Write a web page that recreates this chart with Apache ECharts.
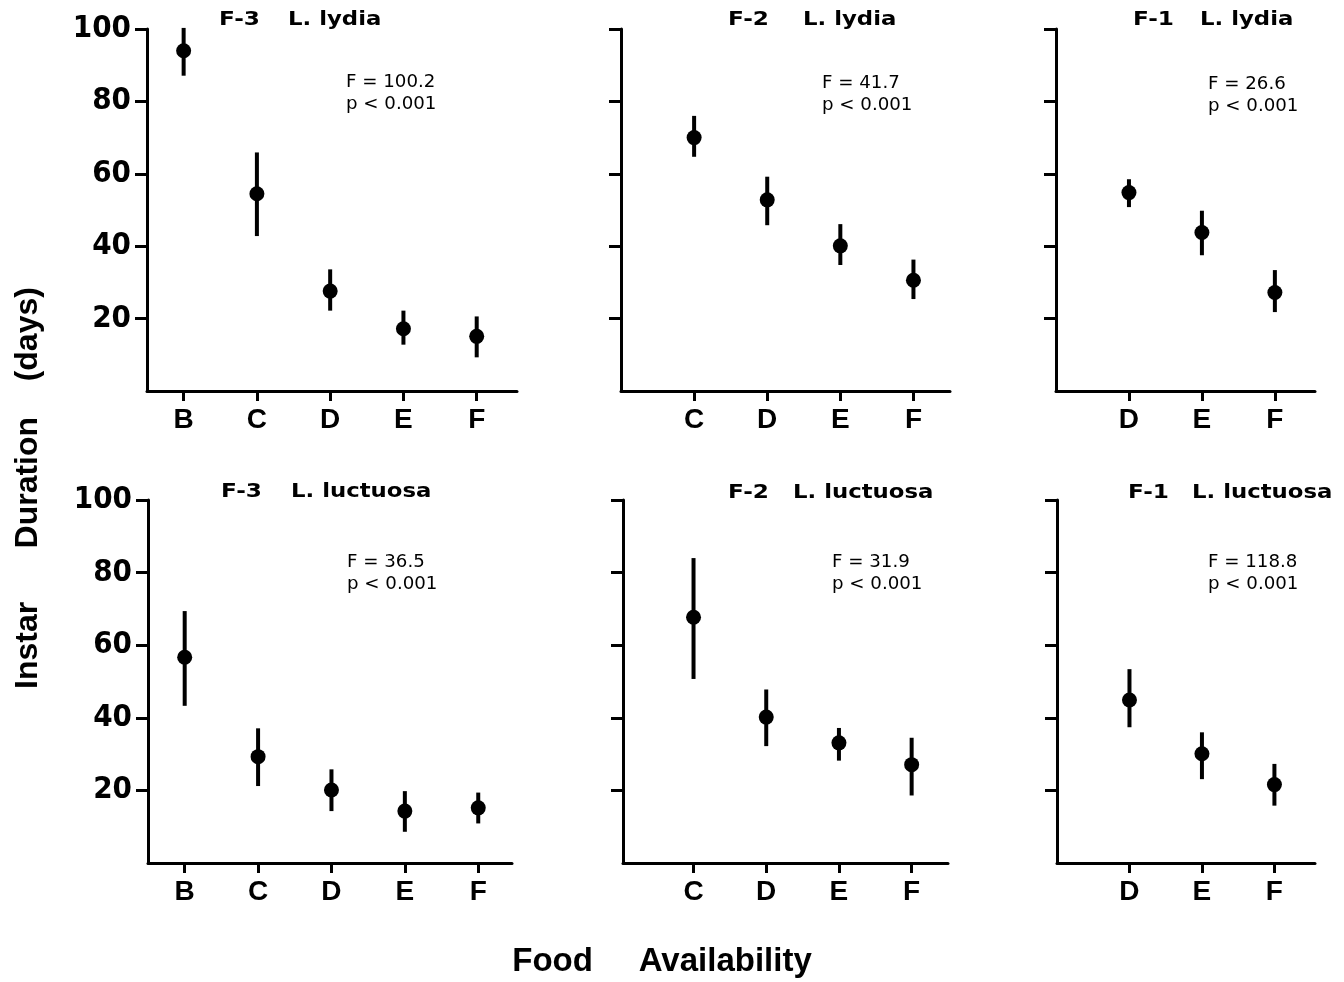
<!DOCTYPE html>
<html>
<head>
<meta charset="utf-8">
<title>Instar duration vs food availability</title>
<script src="https://cdn.jsdelivr.net/npm/echarts@6/dist/echarts.min.js"></script>
<style>
  html, body { margin: 0; padding: 0; background: #fff; }
  #main { width: 1344px; height: 982px; }
</style>
</head>
<body>
<div id="main"></div>
<script>
// food availability levels offered in each instar
const catsF3 = ['B', 'C', 'D', 'E', 'F'];
const catsF2 = ['C', 'D', 'E', 'F'];
const catsF1 = ['D', 'E', 'F'];

const yTicks = [20, 40, 60, 80, 100];

// L. lydia, instar duration (days): mean and bar ends
const lydiaF3Mean = [94.0, 54.5, 27.6, 17.2, 15.1];
const lydiaF3Low  = [87.1, 42.8, 22.2, 12.8, 9.3];
const lydiaF3High = [100.3, 65.9, 33.6, 22.2, 20.6];

const lydiaF2Mean = [70.0, 52.8, 40.1, 30.6];
const lydiaF2Low  = [64.7, 45.8, 34.8, 25.4];
const lydiaF2High = [76.0, 59.2, 46.1, 36.3];

const lydiaF1Mean = [54.8, 43.8, 27.2];
const lydiaF1Low  = [50.8, 37.5, 21.8];
const lydiaF1High = [58.5, 49.8, 33.4];

// L. luctuosa
const luctF3Mean = [56.7, 29.3, 20.1, 14.3, 15.2];
const luctF3Low  = [43.3, 21.2, 14.3, 8.6, 10.9];
const luctF3High = [69.4, 37.1, 25.8, 19.8, 19.4];

const luctF2Mean = [67.7, 40.2, 33.1, 27.1];
const luctF2Low  = [50.7, 32.2, 28.2, 18.6];
const luctF2High = [84.0, 47.8, 37.2, 34.5];

const luctF1Mean = [44.9, 30.1, 21.6];
const luctF1Low  = [37.4, 23.1, 15.8];
const luctF1High = [53.4, 36.0, 27.3];

// ANOVA results
const fValues = ['100.2', '41.7', '26.6', '36.5', '31.9', '118.8'];
const pText = 'p < 0.001';

const panels = [
  { instar: 'F-3', sp: 'L. lydia', cats: catsF3, mean: lydiaF3Mean, low: lydiaF3Low, high: lydiaF3High },
  { instar: 'F-2', sp: 'L. lydia', cats: catsF2, mean: lydiaF2Mean, low: lydiaF2Low, high: lydiaF2High },
  { instar: 'F-1', sp: 'L. lydia', cats: catsF1, mean: lydiaF1Mean, low: lydiaF1Low, high: lydiaF1High },
  { instar: 'F-3', sp: 'L. luctuosa', cats: catsF3, mean: luctF3Mean, low: luctF3Low, high: luctF3High },
  { instar: 'F-2', sp: 'L. luctuosa', cats: catsF2, mean: luctF2Mean, low: luctF2Low, high: luctF2High },
  { instar: 'F-1', sp: 'L. luctuosa', cats: catsF1, mean: luctF1Mean, low: luctF1Low, high: luctF1High }
];

// where each panel sits on the page
const layout = [
  { left: 147, top: 29, width: 370, height: 362, xmin: -0.5, xmax: 4.55, tx: [219, 288], ty: 20, sx: 346, sy: 83 },
  { left: 621, top: 29, width: 329, height: 362, xmin: -1, xmax: 3.5, tx: [728, 803], ty: 20, sx: 822, sy: 84 },
  { left: 1056, top: 29, width: 259, height: 362, xmin: -1, xmax: 2.55, tx: [1133, 1200], ty: 20, sx: 1208, sy: 85 },
  { left: 148, top: 500, width: 364, height: 363, xmin: -0.5, xmax: 4.46, tx: [221, 291], ty: 492, sx: 347, sy: 563 },
  { left: 623, top: 500, width: 325, height: 363, xmin: -0.97, xmax: 3.5, tx: [728, 793], ty: 493, sx: 832, sy: 563 },
  { left: 1057, top: 500, width: 258, height: 363, xmin: -1, xmax: 2.56, tx: [1128, 1192], ty: 493, sx: 1208, sy: 563 }
];

const axisStyle = { color: '#000', width: 3 };
const boldFont = 'Liberation Sans, Arial, sans-serif';

const grids = [], xAxes = [], yAxes = [], series = [], texts = [];

panels.forEach(function (p, i) {
  const L = layout[i];
  const idx = p.cats.map(function (c, k) { return k; });

  grids.push({ left: L.left, top: L.top, width: L.width, height: L.height });

  xAxes.push({
    type: 'value', gridIndex: i, min: L.xmin, max: L.xmax,
    splitLine: { show: false },
    axisLine: { onZero: false, lineStyle: axisStyle },
    axisTick: { customValues: idx, length: 10, lineStyle: axisStyle },
    axisLabel: {
      customValues: idx,
      formatter: function (v) { return p.cats[Math.round(v)]; },
      color: '#000', fontFamily: boldFont, fontWeight: 'bold', fontSize: 28, margin: 15
    }
  });

  yAxes.push({
    type: 'value', gridIndex: i, min: 0, max: 100, interval: 20,
    splitLine: { show: false },
    axisLine: { show: true, onZero: false, lineStyle: axisStyle },
    axisTick: { show: true, customValues: yTicks, length: 12, lineStyle: axisStyle },
    axisLabel: {
      show: i % 3 === 0,
      customValues: yTicks,
      color: '#000', fontFamily: 'DejaVu Sans Condensed',
      fontWeight: 'bold', fontSize: 31, margin: 16
    }
  });

  // vertical bars
  series.push({
    type: 'custom', xAxisIndex: i, yAxisIndex: i, clip: false,
    data: p.low.map(function (v, k) { return [k, v, p.high[k]]; }),
    encode: { x: 0, y: [1, 2] },
    renderItem: function (params, api) {
      const a = api.coord([api.value(0), api.value(1)]);
      const b = api.coord([api.value(0), api.value(2)]);
      return {
        type: 'line',
        shape: { x1: a[0], y1: a[1], x2: b[0], y2: b[1] },
        style: { stroke: '#000', lineWidth: 4 }
      };
    }
  });

  // means
  series.push({
    type: 'scatter', xAxisIndex: i, yAxisIndex: i,
    symbol: 'circle', symbolSize: 15,
    itemStyle: { color: '#000', opacity: 1 },
    data: p.mean.map(function (v, k) { return [k, v]; })
  });

  texts.push(
    { type: 'text', x: L.tx[0], y: L.ty, scaleX: 1.16, style: { text: p.instar, font: 'bold 20px DejaVu Sans', fill: '#000', textVerticalAlign: 'middle' } },
    { type: 'text', x: L.tx[1], y: L.ty, scaleX: 1.14, style: { text: p.sp, font: 'bold 20px DejaVu Sans', fill: '#000', textVerticalAlign: 'middle' } },
    { type: 'text', x: L.sx, y: L.sy, scaleX: 1.07, style: { text: 'F = ' + fValues[i], font: '17px DejaVu Sans', fill: '#000', textVerticalAlign: 'middle' } },
    { type: 'text', x: L.sx, y: L.sy + 22, scaleX: 1.07, style: { text: pText, font: '17px DejaVu Sans', fill: '#000', textVerticalAlign: 'middle' } }
  );
});

// shared axis names
texts.push(
  { type: 'text', x: 28, y: 488, rotation: Math.PI / 2,
    style: { text: 'Instar      Duration    (days)', font: 'bold 32px Liberation Sans', fill: '#000', textAlign: 'center', textVerticalAlign: 'middle' } },
  { type: 'text', x: 662, y: 962,
    style: { text: 'Food     Availability', font: 'bold 33px Liberation Sans', fill: '#000', textAlign: 'center', textVerticalAlign: 'middle' } }
);

const chart = echarts.init(document.getElementById('main'));
chart.setOption({
  animation: false,
  backgroundColor: '#fff',
  grid: grids,
  xAxis: xAxes,
  yAxis: yAxes,
  series: series,
  graphic: texts
});
</script>
</body>
</html>
